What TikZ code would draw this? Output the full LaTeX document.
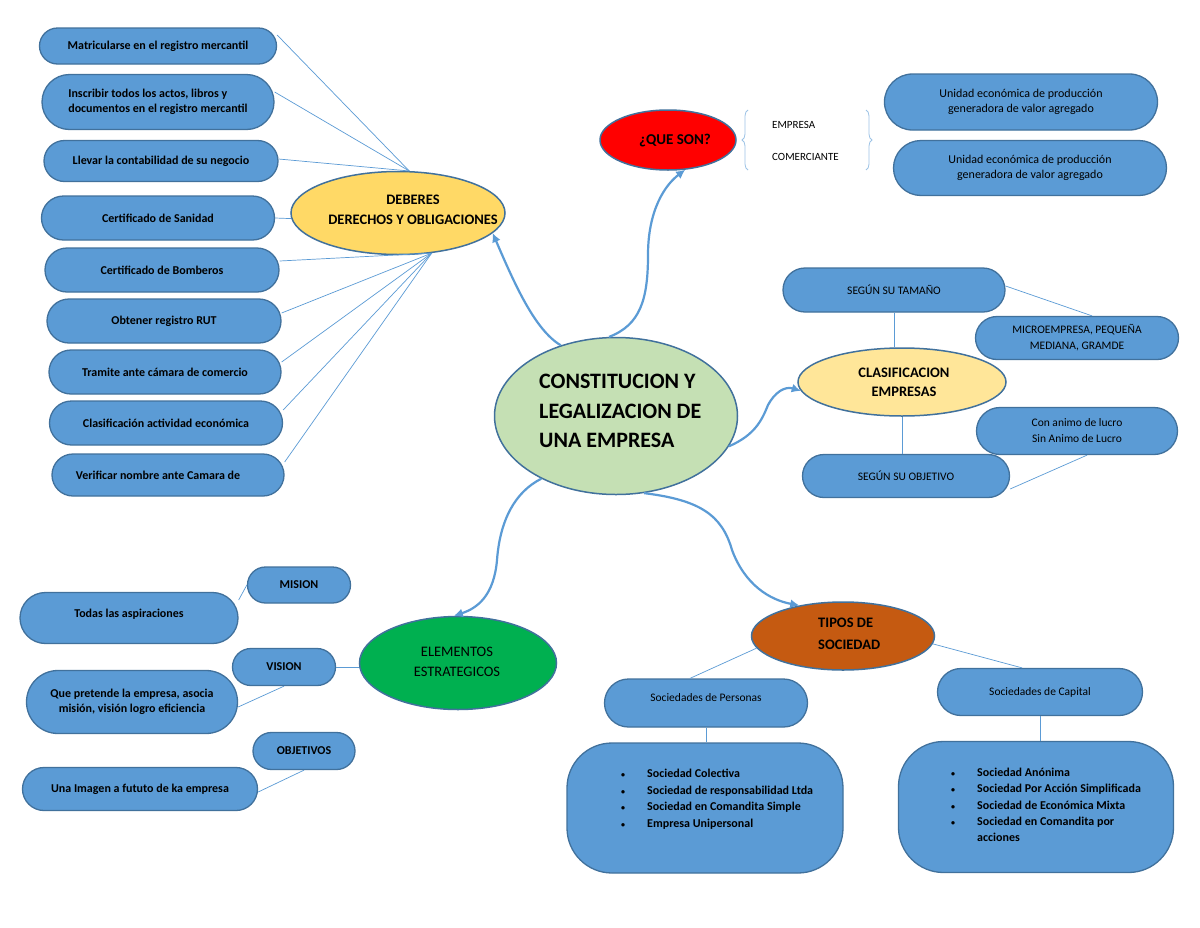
\documentclass[tikz,border=0pt]{standalone}
\usepackage{fontspec}
\setmainfont{Carlito}
\usetikzlibrary{arrows.meta, shapes.geometric, shapes.misc, decorations.pathreplacing, positioning}
\definecolor{boxblue}{HTML}{5B9BD5}
\definecolor{boxedge}{HTML}{41719C}
\definecolor{linkblue}{HTML}{5B9BD5}
\definecolor{bracecol}{HTML}{9DC3E6}
\definecolor{debyellow}{HTML}{FFD966}
\definecolor{clasyellow}{HTML}{FFE699}
\definecolor{centergreen}{HTML}{C5E0B4}
\definecolor{elemgreen}{HTML}{00B050}
\definecolor{tiposorange}{HTML}{C55A11}
\newcommand{\listdot}{\makebox[27pt][l]{\hspace*{1pt}{\fontsize{8}{8}\selectfont\textbullet}}}

\begin{document}
\begin{tikzpicture}[x=1pt,y=-1pt,
  pill/.style={rounded rectangle, draw=boxedge, fill=boxblue, line width=1.3pt, inner sep=0pt, align=center, font=\fontsize{12}{15}\selectfont\bfseries},
  pillthin/.style={pill, font=\fontsize{11.5}{16}\selectfont},
  oval/.style={ellipse, draw=boxedge, line width=1.5pt, inner sep=0pt},
  title/.style={inner sep=0pt, align=center, font=\fontsize{14.5}{20}\selectfont\bfseries},
  link/.style={draw=linkblue, line width=0.7pt},
  arr/.style={draw=linkblue, line width=2.2pt, -{Latex[length=9pt,width=9pt]}},
  listbox/.style={rectangle, rounded corners=45pt, draw=boxedge, fill=boxblue, line width=1.3pt, inner sep=0pt},
  listtext/.style={inner sep=0pt, align=left, anchor=north west, font=\fontsize{12}{16.5}\selectfont\bfseries},
  bracestyle/.style={draw=bracecol, line width=0.8pt, decorate, decoration={brace, amplitude=6pt}}]
\fill[white] (0,0) rectangle (1200,927);
\useasboundingbox (0,0) rectangle (1200,927);

\node[pill, minimum width=237pt, minimum height=36pt] (mat) at (158,46) {Matricularse en el registro mercantil};
\node[pill, minimum width=232pt, minimum height=55pt, align=left] (ins) at (158,102) {Inscribir todos los actos, libros y\\documentos en el registro mercantil};
\node[pill, minimum width=234pt, minimum height=41pt] (lle) at (161,161) {Llevar la contabilidad de su negocio};
\node[pill, minimum width=233pt, minimum height=44pt] (san) at (158,218) {Certificado de Sanidad};
\node[pill, minimum width=234pt, minimum height=44pt] (bom) at (162,270) {Certificado de Bomberos};
\node[pill, minimum width=234pt, minimum height=44pt] (rut) at (164,321) {Obtener registro RUT};
\node[pill, minimum width=232pt, minimum height=44pt] (tra) at (165,372) {Tramite ante cámara de comercio};
\node[pill, minimum width=233pt, minimum height=44pt] (cla) at (166,423) {Clasificación actividad económica};
\node[pill, minimum width=232pt, minimum height=42pt] (ver) at (168,475) {Verificar nombre ante Camara de\hspace*{20pt}};

\node[oval, fill=debyellow, minimum width=214pt, minimum height=83pt] (deb) at (398,213) {};
\node[title] (debt) at (413,210) {DEBERES\\DERECHOS Y OBLIGACIONES};

\draw[link] ([yshift=11pt]mat.east) -- (deb.75);
\draw[link] ([yshift=10pt]ins.east) -- (deb.75);
\draw[link] ([yshift=2pt]lle.east) -- (deb.75);
\draw[link] (san.east) -- (deb.183);
\draw[link] ([yshift=9pt]bom.east) -- (deb.-50);
\draw[link] ([yshift=8pt]rut.east) -- (deb.-50);
\draw[link] ([yshift=10pt]tra.east) -- (deb.-50);
\draw[link] ([yshift=13pt]cla.east) -- (deb.-50);
\draw[link] ([yshift=13pt]ver.east) -- (deb.-50);

\node[oval, fill=centergreen, minimum width=243pt, minimum height=157pt] (cen) at (616,416) {};
\node[inner sep=0pt, align=left, anchor=west, font=\fontsize{22}{29.5}\selectfont\bfseries] (cent) at (539,411) {CONSTITUCION Y\\LEGALIZACION DE\\UNA EMPRESA};

\node[oval, fill=red, minimum width=136pt, minimum height=60pt] (que) at (668,140) {};
\node[title, font=\fontsize{15}{18}\selectfont\bfseries] (quet) at (675,141) {¿QUE SON?};
\coordinate (lbb) at (748,170);
\coordinate (lbt) at (748,110);
\coordinate (rbt) at (866,110);
\coordinate (rbb) at (866,170);
\draw[bracestyle] (lbb) -- (lbt);
\draw[bracestyle] (rbt) -- (rbb);
\node[anchor=west, inner sep=0pt, font=\fontsize{11}{13}\selectfont] (emp) at (772,125) {EMPRESA};
\node[anchor=west, inner sep=0pt, font=\fontsize{11}{13}\selectfont] (com) at (772,157) {COMERCIANTE};
\node[pillthin, minimum width=273pt, minimum height=56pt, font=\fontsize{12}{15.5}\selectfont] (uni1) at (1021,102) {Unidad económica de producción\\generadora de valor agregado};
\node[pillthin, minimum width=273pt, minimum height=55pt, font=\fontsize{12}{15.5}\selectfont] (uni2) at (1030,168) {Unidad económica de producción\\generadora de valor agregado};

\node[oval, fill=clasyellow, minimum width=208pt, minimum height=68pt] (clas) at (902,382) {};
\node[title, font=\fontsize{14.5}{19}\selectfont\bfseries] (clast) at (904,382) {CLASIFICACION\\EMPRESAS};
\node[pillthin, minimum width=222pt, minimum height=44pt] (tam) at (894,290) {SEGÚN SU TAMAÑO};
\node[pillthin, minimum width=203pt, minimum height=43pt] (mic) at (1077,338) {MICROEMPRESA, PEQUEÑA\\MEDIANA, GRAMDE};
\node[pillthin, minimum width=201pt, minimum height=47pt] (con) at (1077,431) {Con animo de lucro\\Sin Animo de Lucro};
\node[pillthin, minimum width=207pt, minimum height=43pt] (obj) at (906,476) {SEGÚN SU OBJETIVO};
\draw[link] (tam.south) -- (tam.south |- clas.north);
\draw[link] ([yshift=4pt]tam.east) -- ([xshift=15pt]mic.north);
\draw[link] (clas.south) -- (clas.south |- obj.north);
\draw[link] ([yshift=-13pt]obj.east) -- ([xshift=10pt]con.south);

\node[oval, fill=elemgreen, minimum width=197pt, minimum height=93pt] (ele) at (458,663) {};
\node[title, font=\fontsize{14.5}{20}\selectfont] (elet) at (457,662) {ELEMENTOS\\ESTRATEGICOS};
\node[pill, minimum width=103pt, minimum height=36pt] (mis) at (299,585) {MISION};
\node[pill, minimum width=218pt, minimum height=51pt] (tod) at (129,618) {Todas las aspiraciones\\[-5pt]};
\node[pill, minimum width=103pt, minimum height=37pt] (vis) at (284,667) {VISION};
\node[pill, minimum width=211pt, minimum height=63pt] (qpr) at (132,702) {Que pretende la empresa, asocia\\misión, visión logro eficiencia};
\node[pill, minimum width=102pt, minimum height=37pt] (obv) at (304,751) {OBJETIVOS};
\node[pill, minimum width=235pt, minimum height=43pt] (una) at (140,789) {Una Imagen a fututo de ka empresa};
\draw[link] (mis.west) -- ([yshift=18pt]tod.east);
\draw[link] (vis.east) -- (vis.east -| ele.west);
\draw[link] (vis.south) -- ([yshift=-5pt]qpr.east);
\draw[link] (obv.south) -- ([yshift=-3pt]una.east);

\node[oval, fill=tiposorange, minimum width=183pt, minimum height=68pt] (tip) at (843,636) {};
\node[title, align=left, anchor=west, font=\fontsize{14.5}{22}\selectfont\bfseries] (tipt) at (818,634) {TIPOS DE\\SOCIEDAD};
\node[pillthin, minimum width=203pt, minimum height=48pt] (per) at (706,703) {Sociedades de Personas\\[-4pt]};
\node[pillthin, minimum width=205pt, minimum height=47pt] (cap) at (1040,692) {Sociedades de Capital};
\node[listbox, minimum width=276pt, minimum height=130pt] (perl) at (705,808) {};
\node[listbox, minimum width=275pt, minimum height=131pt] (capl) at (1036,807) {};
\node[listtext] (perlt) at (620,769) {\listdot Sociedad Colectiva\\
  \listdot Sociedad de responsabilidad Ltda\\
  \listdot Sociedad en Comandita Simple\\
  \listdot Empresa Unipersonal};
\node[listtext, font=\fontsize{12}{16.3}\selectfont\bfseries] (caplt) at (950,768) {\listdot Sociedad Anónima\\
  \listdot Sociedad Por Acción Simplificada\\
  \listdot Sociedad de Económica Mixta\\
  \listdot Sociedad en Comandita por\\
  \hspace*{27pt}acciones};
\draw[link] (tip.188) -- ([xshift=-16pt]per.north);
\draw[link] (tip.-5) -- ([xshift=-18pt]cap.north);
\draw[link] (per.south) -- (per.south |- perl.north);
\draw[link] (cap.south) -- (cap.south |- capl.north);

\draw[arr] (cen.128) .. controls (535,330) and (515,285) .. (deb.-12);
\draw[arr] (cen.95) .. controls (640,325) and (648,300) .. (648,255) .. controls (648,210) and (665,185) .. (que.-60);
\draw[arr] (cen.-15) .. controls (755,435) and (762,420) .. (768,405) .. controls (775,392) and (785,386) .. (clas.185);
\draw[arr] (cen.-140) .. controls (515,492) and (500,520) .. (497,560) .. controls (494,595) and (478,608) .. (ele.95);
\draw[arr] (cen.-70) .. controls (700,500) and (722,515) .. (732,550) .. controls (745,585) and (770,600) .. (tip.145);
\end{tikzpicture}
\end{document}
